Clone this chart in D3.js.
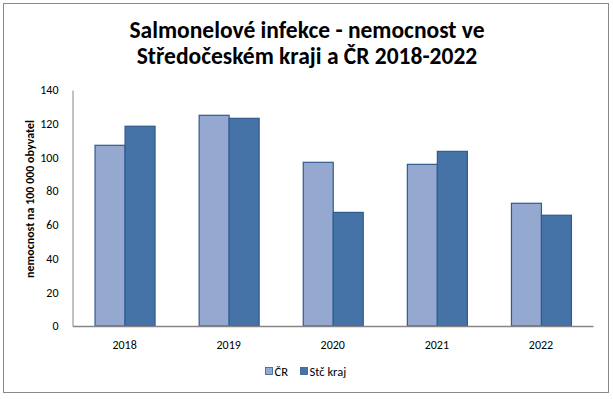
<!DOCTYPE html>
<html>
<head>
<meta charset="utf-8">
<script src="https://cdn.jsdelivr.net/npm/d3@7"></script>
<style>
  body { margin: 0; background: #fff; }
  svg text { font-family: "Carlito", "Open Sans", "Liberation Sans", sans-serif; }
</style>
</head>
<body>
<svg id="chart" width="613" height="399"></svg>
<script>
// Data
var years = ["2018", "2019", "2020", "2021", "2022"];
var seriesNames = ["ČR", "Stč kraj"];
var valuesCR = [107.2, 125.0, 97.1, 95.9, 72.8];
var valuesStc = [118.5, 123.2, 67.4, 103.6, 65.7];
var yTicks = [0, 20, 40, 60, 80, 100, 120, 140];

// Layout
var plotLeft = 72.5, plotRight = 593, plotTop = 90, plotBottom = 326;
var fills = ["#95a9d0", "#4573a7"];
var strokeCol = "#2f5b8f";
var fontFam = "Carlito, 'Open Sans', sans-serif";

var svg = d3.select("#chart");

// frame
svg.append("rect")
    .attr("x", 3.5).attr("y", 3.5)
    .attr("width", 605).attr("height", 389)
    .attr("fill", "#fff")
    .attr("stroke", "#888").attr("stroke-width", 1);

// title
var title = svg.append("text")
    .attr("text-anchor", "middle")
    .attr("font-weight", "bold")
    .attr("font-size", 23.5)
    .attr("font-family", fontFam)
    .attr("fill", "#000");
title.append("tspan").attr("x", 307).attr("y", 37.5).text("Salmonelové infekce - nemocnost ve");
title.append("tspan").attr("x", 307).attr("y", 63.5).text("Středočeském kraji a ČR 2018-2022");

var x = d3.scaleBand().domain(years).range([plotLeft, plotRight]);
var y = d3.scaleLinear().domain([0, 140]).range([plotBottom, plotTop]);
var barW = 30;

var data = years.map(function(yr, i){
    return { year: yr, vals: [valuesCR[i], valuesStc[i]] };
});

var groups = svg.selectAll("g.cat").data(data).enter().append("g").attr("class", "cat");
groups.selectAll("rect").data(function(d){ return d.vals.map(function(v, k){ return { year: d.year, v: v, k: k }; }); })
    .enter().append("rect")
    .attr("x", function(d){ return x(d.year) + x.bandwidth() / 2 - barW + d.k * barW + 0.5; })
    .attr("y", function(d){ return y(d.v); })
    .attr("width", barW)
    .attr("height", function(d){ return plotBottom - y(d.v); })
    .attr("fill", function(d){ return fills[d.k]; })
    .attr("stroke", strokeCol)
    .attr("stroke-width", 1.2);

// y axis
var yAxis = svg.append("g")
    .attr("transform", "translate(" + plotLeft + ",0)")
    .call(d3.axisLeft(y).tickValues(yTicks).tickSize(0).tickPadding(14));
yAxis.select(".domain").attr("stroke", "#868686");
yAxis.selectAll("text").attr("font-size", 12).attr("fill", "#000")
    .attr("font-family", fontFam);

// x axis
var xAxis = svg.append("g")
    .attr("transform", "translate(0," + plotBottom + ")")
    .call(d3.axisBottom(x).tickSize(0).tickPadding(14.5));
xAxis.select(".domain").attr("stroke", "#868686").attr("stroke-width", 1.5);
xAxis.selectAll("text").attr("font-size", 12).attr("fill", "#000")
    .attr("font-family", fontFam);

// y label
svg.append("text")
    .attr("transform", "translate(33.5,199) rotate(-90)")
    .attr("text-anchor", "middle")
    .attr("font-weight", "bold")
    .attr("font-size", 12)
    .attr("font-family", fontFam)
    .text("nemocnost na 100 000 obyvatel");

// legend
var legendX = [265, 300];
seriesNames.forEach(function(name, k){
    var g = svg.append("g").attr("transform", "translate(" + legendX[k] + ",367)");
    g.append("rect").attr("x", 0.5).attr("y", 0.5).attr("width", 7).attr("height", 7)
        .attr("fill", fills[k]).attr("stroke", strokeCol).attr("stroke-width", 0.8);
    g.append("text").attr("x", 9.5).attr("y", 9).attr("font-size", 12.5)
        .attr("font-family", fontFam)
        .text(name);
});
</script>
</body>
</html>
